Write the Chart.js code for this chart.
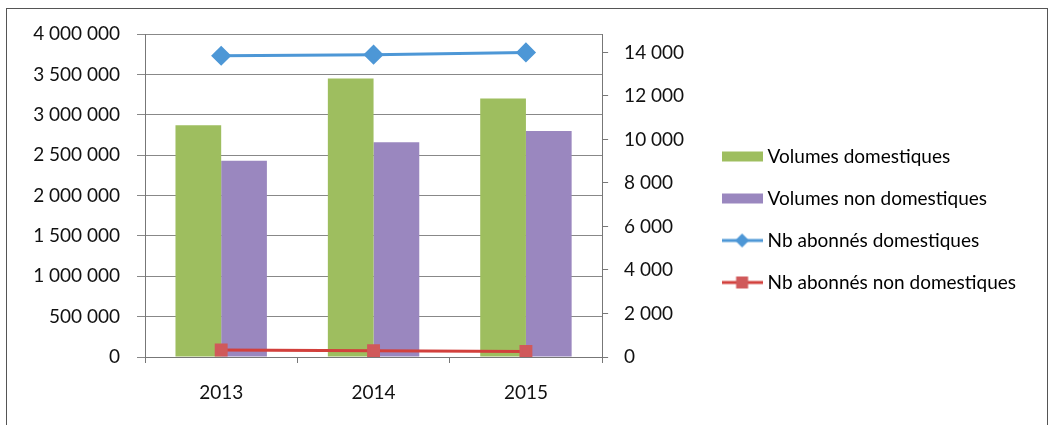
<!DOCTYPE html>
<html>
<head>
<meta charset="utf-8">
<script src="https://cdn.jsdelivr.net/npm/chart.js@4.4.1/dist/chart.umd.min.js"></script>
<style>
  html, body { margin: 0; padding: 0; background: #fff; }
  #wrap { position: relative; width: 1054px; height: 425px; }
</style>
</head>
<body>
<div id="wrap"><canvas id="chart" width="1054" height="425"></canvas></div>
<script>
// données
const annees = ['2013', '2014', '2015'];
const volumesDomestiques = [2870000, 3450000, 3200000];
const volumesNonDomestiques = [2430000, 2660000, 2800000];
const abonnesDomestiques = [13850, 13900, 14000];
const abonnesNonDomestiques = [320, 290, 250];
const ticksGauche = [0, 500000, 1000000, 1500000, 2000000, 2500000, 3000000, 3500000, 4000000];
const ticksDroite = [0, 2000, 4000, 6000, 8000, 10000, 12000, 14000];

const VERT = '#9ebe5f', VIOLET = '#9a87bf', BLEU = '#4d97d6', ROUGE = '#d0595a', ROUGE_LIGNE = '#d2403c';
const POLICE = 'Lato, "Open Sans", sans-serif';

const fmt = v => String(v).replace(/\B(?=(\d{3})+(?!\d))/g, ' ');

// petits symboles de légende façon Excel
const symbole = (type, couleur, trait) => {
    const c = document.createElement('canvas');
    c.width = 41; c.height = 16;
    const g = c.getContext('2d');
    if (type === 'bar') {
        g.fillStyle = couleur;
        g.fillRect(0, 3, 41, 10);
    } else {
        g.strokeStyle = trait;
        g.lineWidth = 3;
        g.beginPath(); g.moveTo(0, 8); g.lineTo(41, 8); g.stroke();
        g.fillStyle = couleur;
        g.beginPath();
        if (type === 'diamond') {
            g.moveTo(20.5, 1); g.lineTo(27.5, 8); g.lineTo(20.5, 15); g.lineTo(13.5, 8);
        } else {
            g.rect(14.5, 2, 12, 12);
        }
        g.fill();
    }
    return c;
};

const cadre = {
    id: 'cadre',
    afterDraw: (chart) => {
        const g = chart.ctx;
        g.save();
        g.strokeStyle = '#555';
        g.lineWidth = 1;
        g.strokeRect(6.5, 8.5, 1041, 430);
        g.restore();
    }
};

const ctx = document.getElementById('chart').getContext('2d');
new Chart(ctx, {
    data: {
        labels: annees,
        datasets: [
            { type: 'line', label: 'Nb abonnés domestiques', data: abonnesDomestiques, yAxisID: 'y2',
              borderColor: BLEU, borderWidth: 3, pointStyle: 'rectRot', pointRadius: 8, pointHoverRadius: 8,
              pointBackgroundColor: BLEU, pointBorderColor: BLEU, order: 0, legendIcon: symbole('diamond', BLEU, BLEU), legendOrder: 2 },
            { type: 'line', label: 'Nb abonnés non domestiques', data: abonnesNonDomestiques, yAxisID: 'y2',
              borderColor: ROUGE_LIGNE, borderWidth: 3, pointStyle: 'rect', pointRadius: 7, pointHoverRadius: 7,
              pointBackgroundColor: ROUGE, pointBorderColor: ROUGE, order: 0, legendIcon: symbole('square', ROUGE, ROUGE_LIGNE), legendOrder: 3 },
            { type: 'bar', label: 'Volumes domestiques', data: volumesDomestiques, yAxisID: 'y',
              backgroundColor: VERT, order: 1, legendIcon: symbole('bar', VERT), legendOrder: 0 },
            { type: 'bar', label: 'Volumes non domestiques', data: volumesNonDomestiques, yAxisID: 'y',
              backgroundColor: VIOLET, order: 1, legendIcon: symbole('bar', VIOLET), legendOrder: 1 }
        ]
    },
    options: {
        responsive: false,
        animation: false,
        datasets: { bar: { categoryPercentage: 0.6, barPercentage: 1 } },
        layout: { padding: { top: 34, right: 28, bottom: 20, left: 0 } },
        plugins: {
            tooltip: { enabled: false },
            legend: {
                position: 'right',
                maxWidth: 350,
                labels: {
                    usePointStyle: true,
                    pointStyleWidth: 32,
                    padding: 23,
                    color: '#111',
                    font: { family: POLICE, size: 19 },
                    generateLabels: (chart) => chart.data.datasets
                        .map((d, i) => ({ text: d.label, pointStyle: d.legendIcon, datasetIndex: i, ord: d.legendOrder,
                                          fillStyle: 'transparent', strokeStyle: 'transparent', lineWidth: 0 }))
                        .sort((a, b) => a.ord - b.ord)
                }
            }
        },
        scales: {
            x: {
                offset: true,
                grid: { display: true, drawOnChartArea: false, drawTicks: true, offset: true, tickLength: 6, color: '#777' },
                border: { display: true, color: '#777' },
                ticks: { color: '#111', padding: 18, font: { family: POLICE, size: 19 } },
                afterFit: s => { s.height = 48; }
            },
            y: {
                position: 'left',
                min: 0, max: 4000000,
                afterBuildTicks: s => { s.ticks = ticksGauche.map(v => ({ value: v })); },
                grid: { color: '#888', tickLength: 8 },
                border: { display: true, color: '#777' },
                ticks: { color: '#111', padding: 17, callback: v => fmt(v), font: { family: POLICE, size: 19 } },
                afterFit: s => { s.width = 145; }
            },
            y2: {
                position: 'right',
                min: 0, max: 14850,
                afterBuildTicks: s => { s.ticks = ticksDroite.map(v => ({ value: v })); },
                grid: { drawOnChartArea: false, color: '#777', tickLength: 6 },
                border: { display: true, color: '#777' },
                ticks: { color: '#111', padding: 16, callback: v => fmt(v), font: { family: POLICE, size: 19 } },
                afterFit: s => { s.width = 101; }
            }
        }
    },
    plugins: [cadre]
});
</script>
</body>
</html>
